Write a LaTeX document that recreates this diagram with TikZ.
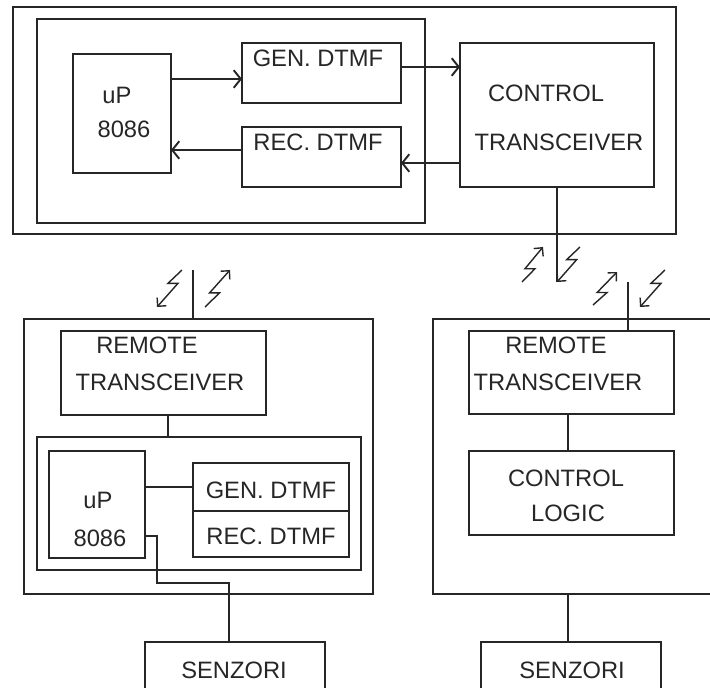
\documentclass[tikz,border=0pt]{standalone}
\usepackage{fontspec}
\setmainfont{Liberation Sans}
\usepackage{tikz}
\usetikzlibrary{arrows.meta,calc,fit}

\tikzset{
  blk/.style={draw,line width=1.1pt,inner sep=0pt,outer sep=0pt},
  lbl/.style={inner sep=0pt,font=\fontsize{13.5}{16}\selectfont},
  wire/.style={line width=1.1pt},
  arr/.style={line width=1.1pt,-{Straight Barb[length=4pt,width=10pt]}},
  zig/.style={line width=0.8pt},
  tipup/.style={{Straight Barb[length=3.5pt,width=7pt]}-},
  tipdn/.style={-{Straight Barb[length=3.5pt,width=7pt]}}
}

\begin{document}
\begin{tikzpicture}[x=0.02cm,y=-0.02cm,black!85]
 \useasboundingbox (0,0) rectangle (710,687);
 \clip (0,0) rectangle (710,687);
 % control station
 \node[blk,fit={(13,7)(676,234)}] (stA) {};
 \node[blk,fit={(37,19)(425,223)}] (pcA) {};
 \node[blk,fit={(73,54)(171,173)}] (upA) {};
 \node[blk,fit={(242,43)(401,103)}] (genA) {};
 \node[blk,fit={(242,127)(401,187)}] (recA) {};
 \node[blk,fit={(460,43)(654,187)}] (ctA) {};
 \node[lbl] (tUpA1) at (117,95) {uP};
 \node[lbl] (tUpA2) at (124,129) {8086};
 \node[lbl] (tGenA) at (318,58) {GEN. DTMF};
 \node[lbl] (tRecA) at (318,142) {REC. DTMF};
 \node[lbl] (tCtA1) at (546,93) {CONTROL};
 \node[lbl] (tCtA2) at (559,142) {TRANSCEIVER};
 \draw[arr] (upA.east |- 0,79) -- (genA.west |- 0,79);
 \draw[arr] (genA.east |- 0,67) -- (ctA.west |- 0,67);
 \draw[arr] (ctA.west |- 0,163) -- (recA.east |- 0,163);
 \draw[arr] (recA.west |- 0,150) -- (upA.east |- 0,150);
 \coordinate (antA) at (ctA.south |- 0,282);
 \draw[wire] (ctA.south) -- (antA);

 % remote station 1
 \node[blk,fit={(24,319)(373,594)}] (stL) {};
 \node[blk,fit={(61,331)(266,415)}] (rtL) {};
 \node[blk,fit={(37,437)(361,570)}] (pcL) {};
 \node[blk,fit={(49,451)(145,558)}] (upL) {};
 \node[blk,fit={(193,463)(349,511)}] (genL) {};
 \node[blk,fit={(193,511)(349,557)}] (recL) {};
 \node[blk,fit={(145,642)(325,720)}] (senL) {};
 \node[lbl] (tRtL1) at (147,345) {REMOTE};
 \node[lbl] (tRtL2) at (160,382) {TRANSCEIVER};
 \node[lbl] (tUpL1) at (98,500) {uP};
 \node[lbl] (tUpL2) at (100,538) {8086};
 \node[lbl] (tGenL) at (271,490) {GEN. DTMF};
 \node[lbl] (tRecL) at (271,536) {REC. DTMF};
 \node[lbl] (tSenL) at (234,670) {SENZORI};
 \draw[wire] (rtL.south -| 168,0) -- (pcL.north -| 168,0);
 \draw[wire] (upL.east |- 0,487) -- (genL.west |- 0,487);
 \draw[wire] (upL.east |- 0,536) -- (157,536) -- (157,583) -- (229,583) -- (senL.north -| 229,0);
 \draw[wire] (193,270) -- (stL.north -| 193,0);

 % remote station 2
 \node[blk,fit={(433,319)(730,594)}] (stR) {};
 \node[blk,fit={(469,331)(674,414)}] (rtR) {};
 \node[blk,fit={(469,451)(674,535)}] (clR) {};
 \node[blk,fit={(481,642)(661,720)}] (senR) {};
 \node[lbl] (tRtR1) at (556,345) {REMOTE};
 \node[lbl] (tRtR2) at (558,382) {TRANSCEIVER};
 \node[lbl] (tClR1) at (566,478) {CONTROL};
 \node[lbl] (tClR2) at (568,513) {LOGIC};
 \node[lbl] (tSenR) at (572,670) {SENZORI};
 \draw[wire] (rtR.south -| 568,0) -- (clR.north -| 568,0);
 \draw[wire] (stR.south -| 568,0) -- (senR.north -| 568,0);
 \draw[wire] (628,282) -- (rtR.north -| 628,0);

 % radio links
 \foreach \ux/\uy/\lx/\ly/\f/\tip in {543/247/522/282/0.62/tipup, 580/247/557/282/0.36/tipdn,
     617/272/593/305/0.62/tipup, 665/270/640/307/0.36/tipdn,
     182/270/157/307/0.36/tipdn, 230/270/205/307/0.62/tipup}
   \draw[zig,\tip] (\ux,\uy) -- ($(\ux,\uy)!\f!(\lx,\ly)+(-5,0)$)
     -- ($(\ux,\uy)!\f!(\lx,\ly)+(5,0)$) -- (\lx,\ly);
\end{tikzpicture}
\end{document}
